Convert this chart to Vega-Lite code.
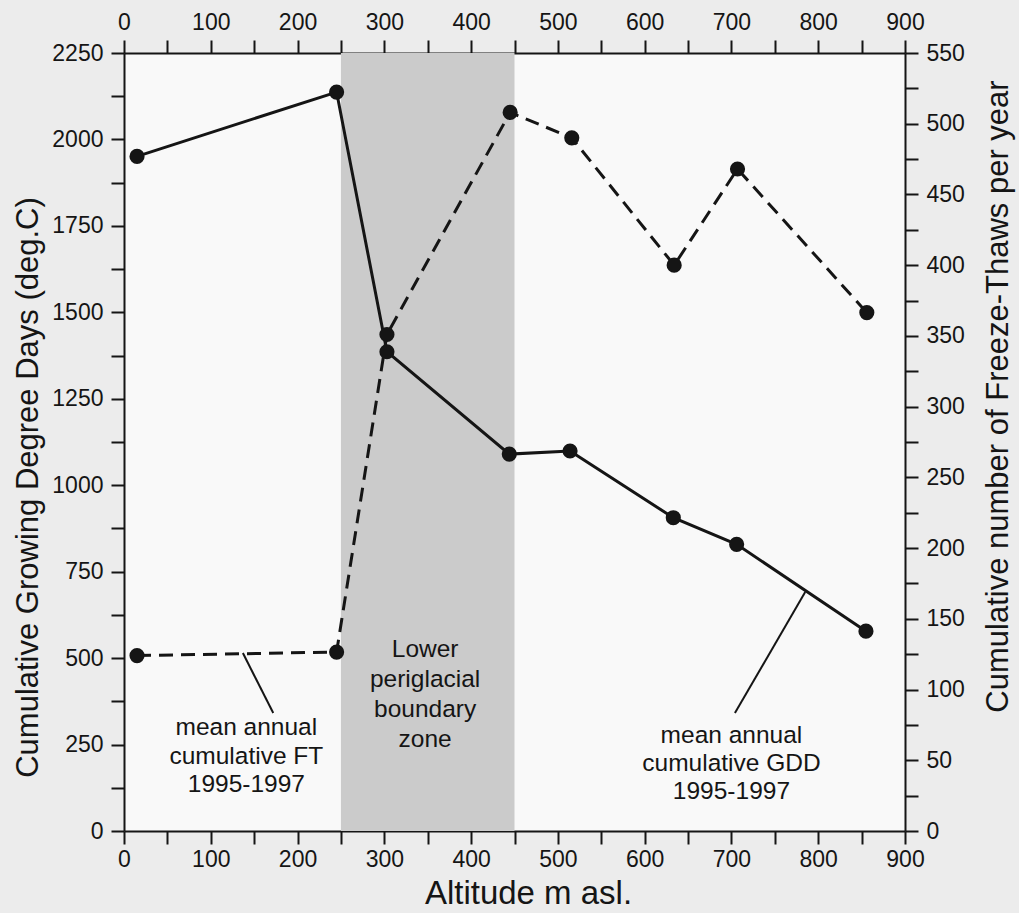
{
  "$schema": "https://vega.github.io/schema/vega-lite/v6.json",
  "width": 781,
  "height": 778,
  "autosize": "none",
  "padding": {"left": 124, "top": 53, "right": 114, "bottom": 82},
  "background": "#ececec",
  "config": {
    "view": {"stroke": null, "fill": "#f9f9f9"},
    "font": "Liberation Sans",
    "axis": {
      "grid": false,
      "domainColor": "#151515",
      "domainWidth": 2,
      "tickColor": "#151515",
      "tickWidth": 2,
      "tickSize": 13,
      "labelFont": "Liberation Sans",
      "labelFontSize": 23,
      "labelColor": "#151515",
      "labelOverlap": false,
      "labelFlush": false,
      "titleFont": "Liberation Sans",
      "titleFontSize": 31,
      "titleFontWeight": "normal",
      "titleColor": "#151515"
    }
  },
  "datasets": {
    "gdd": [
      {"alt": 15, "gdd": 1951},
      {"alt": 245, "gdd": 2137},
      {"alt": 303, "gdd": 1386},
      {"alt": 444, "gdd": 1090},
      {"alt": 514, "gdd": 1099},
      {"alt": 633, "gdd": 906},
      {"alt": 706, "gdd": 829},
      {"alt": 855, "gdd": 578}
    ],
    "ft": [
      {"alt": 15, "ft": 124},
      {"alt": 245, "ft": 126.5},
      {"alt": 303, "ft": 351},
      {"alt": 445, "ft": 508},
      {"alt": 516, "ft": 490},
      {"alt": 634, "ft": 400},
      {"alt": 707, "ft": 468},
      {"alt": 856, "ft": 366.5}
    ],
    "band": [{"from": 250, "to": 450}],
    "zoneNote": [
      {"alt": 347, "gdd": 523, "label": "Lower\nperiglacial\nboundary\nzone"}
    ],
    "gddNote": [
      {"alt": 700, "gdd": 275, "label": "mean annual\ncumulative GDD\n1995-1997"}
    ],
    "gddLeader": [{"alt": 785, "gdd": 691, "alt2": 704, "gdd2": 341}],
    "ftNote": [
      {"alt": 141, "ft": 72.5, "label": "mean annual\ncumulative FT\n1995-1997"}
    ],
    "ftLeader": [{"alt": 137, "ft": 125.8, "alt2": 172, "ft2": 83.4}]
  },
  "layer": [
    {
      "data": {"name": "band"},
      "mark": {"type": "rect", "fill": "#cbcbcb"},
      "encoding": {
        "x": {
          "field": "from", "type": "quantitative",
          "scale": {"domain": [0, 900], "nice": false, "zero": false},
          "axis": {
            "orient": "bottom",
            "values": [0,50,100,150,200,250,300,350,400,450,500,550,600,650,700,750,800,850,900],
            "labelExpr": "datum.value % 100 === 0 ? datum.label : ''",
            "labelPadding": 4,
            "title": "Altitude m asl.",
            "titleFontSize": 33,
            "titleX": 404,
            "titleY": 62,
            "titleBaseline": "middle"
          }
        },
        "x2": {"field": "to"}
      }
    },
    {
      "data": {"name": "gdd"},
      "mark": {"type": "line", "stroke": "#151515", "strokeWidth": 3},
      "encoding": {
        "x": {"field": "alt", "type": "quantitative", "axis": null},
        "y": {
          "field": "gdd", "type": "quantitative",
          "scale": {"domain": [0, 2250], "nice": false},
          "axis": {
            "orient": "left",
            "values": [0,125,250,375,500,625,750,875,1000,1125,1250,1375,1500,1625,1750,1875,2000,2125,2250],
            "labelExpr": "datum.value % 250 === 0 ? format(datum.value, 'd') : ''",
            "labelPadding": 8,
            "title": "Cumulative Growing Degree Days (deg.C)",
            "titleX": -96,
            "titleY": 434,
            "titleAngle": 270,
            "titleBaseline": "middle",
            "titleAlign": "center"
          }
        }
      }
    },
    {
      "data": {"name": "gdd"},
      "mark": {"type": "circle", "fill": "#151515", "opacity": 1, "size": 230},
      "encoding": {
        "x": {"field": "alt", "type": "quantitative", "axis": null},
        "y": {"field": "gdd", "type": "quantitative", "scale": {"domain": [0, 2250], "nice": false}, "axis": null}
      }
    },
    {
      "data": {"name": "zoneNote"},
      "mark": {"type": "text", "fontSize": 24.5, "color": "#151515", "align": "center", "baseline": "middle", "lineHeight": 30, "lineBreak": "\n"},
      "encoding": {
        "x": {"field": "alt", "type": "quantitative", "axis": null},
        "y": {"field": "gdd", "type": "quantitative", "scale": {"domain": [0, 2250], "nice": false}, "axis": null},
        "text": {"field": "label", "type": "nominal"}
      }
    },
    {
      "data": {"name": "gddNote"},
      "mark": {"type": "text", "fontSize": 24.5, "color": "#151515", "align": "center", "baseline": "middle", "lineHeight": 28, "lineBreak": "\n"},
      "encoding": {
        "x": {"field": "alt", "type": "quantitative", "axis": null},
        "y": {"field": "gdd", "type": "quantitative", "scale": {"domain": [0, 2250], "nice": false}, "axis": null},
        "text": {"field": "label", "type": "nominal"}
      }
    },
    {
      "data": {"name": "gddLeader"},
      "mark": {"type": "rule", "stroke": "#151515", "strokeWidth": 2},
      "encoding": {
        "x": {"field": "alt", "type": "quantitative", "axis": null},
        "y": {"field": "gdd", "type": "quantitative", "scale": {"domain": [0, 2250], "nice": false}, "axis": null},
        "x2": {"field": "alt2"},
        "y2": {"field": "gdd2"}
      }
    },
    {
      "data": {"name": "ft"},
      "mark": {"type": "line", "stroke": "#151515", "strokeWidth": 3, "strokeDash": [14, 8]},
      "encoding": {
        "x": {
          "field": "alt", "type": "quantitative",
          "axis": {
            "orient": "top",
            "values": [0,50,100,150,200,250,300,350,400,450,500,550,600,650,700,750,800,850,900],
            "labelExpr": "datum.value % 100 === 0 ? datum.label : ''",
            "labelPadding": 6,
            "title": null
          }
        },
        "y": {
          "field": "ft", "type": "quantitative",
          "scale": {"domain": [0, 550], "nice": false},
          "axis": {
            "orient": "right",
            "values": [0,25,50,75,100,125,150,175,200,225,250,275,300,325,350,375,400,425,450,475,500,525,550],
            "labelExpr": "datum.value % 50 === 0 ? datum.label : ''",
            "labelPadding": 8,
            "title": "Cumulative number of Freeze-Thaws per year",
            "titleX": 93,
            "titleY": 343,
            "titleAngle": 270,
            "titleBaseline": "middle",
            "titleAlign": "center"
          }
        }
      }
    },
    {
      "data": {"name": "ft"},
      "mark": {"type": "circle", "fill": "#151515", "opacity": 1, "size": 230},
      "encoding": {
        "x": {"field": "alt", "type": "quantitative", "axis": null},
        "y": {"field": "ft", "type": "quantitative", "scale": {"domain": [0, 550], "nice": false}, "axis": null}
      }
    },
    {
      "data": {"name": "ftNote"},
      "mark": {"type": "text", "fontSize": 24.5, "color": "#151515", "align": "center", "baseline": "middle", "lineHeight": 28.5, "lineBreak": "\n"},
      "encoding": {
        "x": {"field": "alt", "type": "quantitative", "axis": null},
        "y": {"field": "ft", "type": "quantitative", "scale": {"domain": [0, 550], "nice": false}, "axis": null},
        "text": {"field": "label", "type": "nominal"}
      }
    },
    {
      "data": {"name": "ftLeader"},
      "mark": {"type": "rule", "stroke": "#151515", "strokeWidth": 2},
      "encoding": {
        "x": {"field": "alt", "type": "quantitative", "axis": null},
        "y": {"field": "ft", "type": "quantitative", "scale": {"domain": [0, 550], "nice": false}, "axis": null},
        "x2": {"field": "alt2"},
        "y2": {"field": "ft2"}
      }
    }
  ],
  "resolve": {"scale": {"y": "independent"}, "axis": {"x": "independent"}}
}
